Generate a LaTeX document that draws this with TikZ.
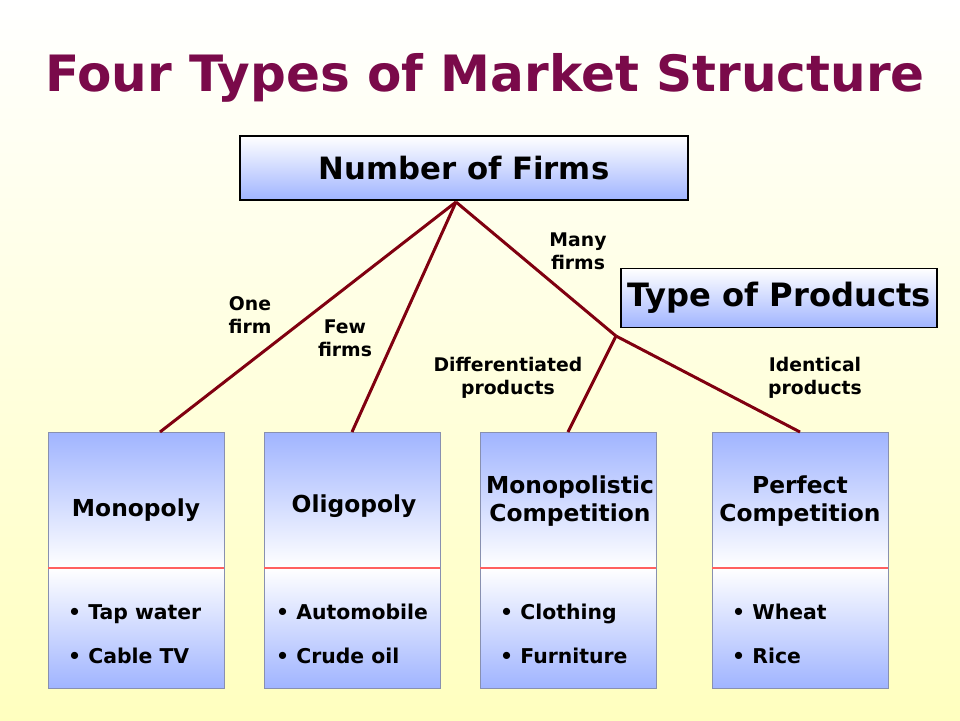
\documentclass[tikz,border=0pt]{standalone}
\usepackage{fontspec}
\setmainfont{DejaVu Sans}
\usetikzlibrary{calc}
\definecolor{ttl}{HTML}{7A0A4A}
\definecolor{ln}{HTML}{800010}
\definecolor{bl}{HTML}{A0B4FF}
\definecolor{bd}{HTML}{8890B0}
\begin{document}
\begin{tikzpicture}[x=0.02cm,y=-0.02cm,
  conn/.style={draw=ln,line width=1.7pt},
  lbl/.style={font=\bfseries\fontsize{10.7}{13}\selectfont,align=center},
  hdr/.style={draw=black,line width=0.8pt,top color=white,bottom color=bl,font=\bfseries},
  topbox/.style={top color=bl,bottom color=white,draw=bd,line width=0.5pt},
  botbox/.style={top color=white,bottom color=bl,draw=bd,line width=0.5pt},
  bname/.style={font=\bfseries\fontsize{13.3}{16}\selectfont,align=center},
  items/.style={font=\bfseries\fontsize{11.6}{25}\selectfont,align=left,anchor=west}]
\shade[top color=white,bottom color=yellow!25] (0,0) rectangle (960,720);
\useasboundingbox (0,0) rectangle (960,720);
\node[font=\bfseries\fontsize{28.5}{34}\selectfont,text=ttl] (title) at (485,78) {Four Types of Market Structure};
\node[hdr,minimum width=448*0.02cm,minimum height=64*0.02cm,font=\bfseries\fontsize{17.5}{20}\selectfont] (nf) at (464,168) {Number of Firms};
\node[hdr,minimum width=316*0.02cm,minimum height=59*0.02cm,font=\bfseries\fontsize{18.3}{22}\selectfont] (tp) at (779,298) {Type of Products};
\coordinate (top) at (456,202);
\coordinate (split) at (616,336);
\foreach \n/\x/\w in {mono/48/176,olig/264/176,mcomp/480/176,pcomp/712/176}{
  \path[topbox] (\x,432) rectangle ++(\w,136);
  \path[botbox] (\x,568) rectangle ++(\w,120);
  \draw[draw=red!50!pink,line width=1.5pt] (\x,568) -- ++(\w,0);
  \coordinate (\n) at ($(\x,432)+(\w/2,0)$);
}
\draw[conn] (top) -- (160,432);
\draw[conn] (top) -- (352,432);
\draw[conn] (top) -- (split);
\draw[conn] (split) -- (568,432);
\draw[conn] (split) -- (800,432);
\node[bname] (n1) at (136,510) {Monopoly};
\node[bname] (n2) at (354,506) {Oligopoly};
\node[bname] (n3) at (570,501) {Monopolistic\\Competition};
\node[bname] (n4) at (800,501) {Perfect\\Competition};
\node[items] (i1) at (62,634) {• Tap water\\• Cable TV};
\node[items] (i2) at (270,634) {• Automobile\\• Crude oil};
\node[items] (i3) at (494,634) {• Clothing\\• Furniture};
\node[items] (i4) at (726,634) {• Wheat\\• Rice};
\node[lbl] (l1) at (250,315) {One\\firm};
\node[lbl] (l2) at (345,338) {Few\\firms};
\node[lbl] (l3) at (578,251) {Many\\firms};
\node[lbl] (l4) at (508,378) {Differentiated\\products};
\node[lbl] (l5) at (815,378) {Identical\\products};
\end{tikzpicture}
\end{document}
